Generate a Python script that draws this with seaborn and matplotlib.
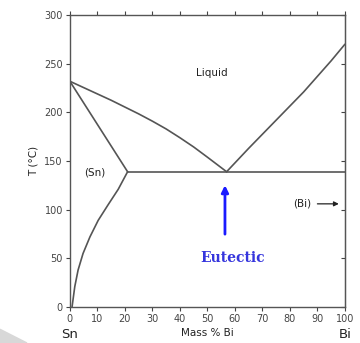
import numpy as np
import matplotlib.pyplot as plt
import seaborn as sns
from matplotlib.patches import Polygon

# === Sn-Bi phase diagram data
liq_left_x = [0, 5, 10, 15, 20, 25, 30, 35, 40, 45, 50, 57]
liq_left_t = [232, 225.5, 219, 212.5, 205.5, 198.5, 191, 183, 174, 164.5, 154, 139]
liq_right_x = [57, 65, 75, 85, 95, 100]
liq_right_t = [139, 163, 192, 221, 253, 270]
solvus_x = [0, 21]
solvus_t = [232, 139]
solidus_x = [0.8, 1.8, 3.0, 4.8, 7.3, 10.3, 13.9, 17.6, 21]
solidus_t = [0, 21, 38, 55, 72, 89, 105, 121, 139]
eutectic_x = [21, 100]
eutectic_t = [139, 139]

sns.set_style("ticks")
plt.rcParams['font.family'] = ['DejaVu Sans']

fig = plt.figure(figsize=(3.6, 3.43), dpi=100)
ax = fig.add_axes([0.194, 0.105, 0.764, 0.851])

lc = "#555555"
for xs, ts in [(liq_left_x, liq_left_t), (liq_right_x, liq_right_t),
               (solvus_x, solvus_t), (solidus_x, solidus_t),
               (eutectic_x, eutectic_t)]:
    sns.lineplot(x=xs, y=ts, ax=ax, color=lc, lw=1.2, sort=False)

ax.set_xlim(0, 100)
ax.set_ylim(0, 300)
ax.set_xticks(np.arange(0, 101, 10))
ax.set_yticks(np.arange(0, 301, 50))
ax.tick_params(labelsize=7, colors="#444444", length=3, width=0.8, pad=2)
ax.tick_params(axis="x", top=True, labeltop=False)
ax.tick_params(axis="y", right=False)
# right-hand ticks point inward
sec = ax.secondary_yaxis("right")
sec.set_yticks(np.arange(0, 301, 50))
sec.tick_params(direction="in", length=3, width=0.8, colors="#444444", labelright=False)
sec.spines["right"].set_color("#555555")
for s in ax.spines.values():
    s.set_color("#555555")
    s.set_linewidth(1.0)
ax.set_xlabel("Mass % Bi", fontsize=7.5, labelpad=3, color="#222222")
ax.set_ylabel("T (°C)", fontsize=7.5, labelpad=4, color="#222222")

ax.text(51.5, 240, "Liquid", fontsize=7.5, ha="center", va="center", color="#222222")
ax.text(9, 138, "(Sn)", fontsize=7.5, ha="center", va="center", color="#222222")
ax.text(84.5, 106, "(Bi)", fontsize=7.5, ha="center", va="center", color="#222222")
ax.annotate("", xy=(98.8, 106), xytext=(89, 106),
            arrowprops=dict(arrowstyle="-|>", color="#222222", lw=0.9, mutation_scale=7))

ax.annotate("", xy=(56.4, 128), xytext=(56.4, 72),
            arrowprops=dict(arrowstyle="-|>", color="#1a1aff", lw=2, mutation_scale=10))
ax.text(59, 50, "Eutectic", fontsize=10, fontweight="bold", family="DejaVu Serif",
        color="#3535dd", ha="center", va="center")

fig.text(70 / 360, 1 - 334 / 343, "Sn", fontsize=9.5, ha="center", va="center", color="#222222")
fig.text(345 / 360, 1 - 334 / 343, "Bi", fontsize=9.5, ha="center", va="center", color="#222222")

# faint gray corner shape
fig.patches.append(Polygon([[0, 0], [0, 0.04], [0.075, 0]], closed=True,
                           transform=fig.transFigure, color="#d8d8d8", zorder=0))

fig.savefig("out.png", dpi=100)
